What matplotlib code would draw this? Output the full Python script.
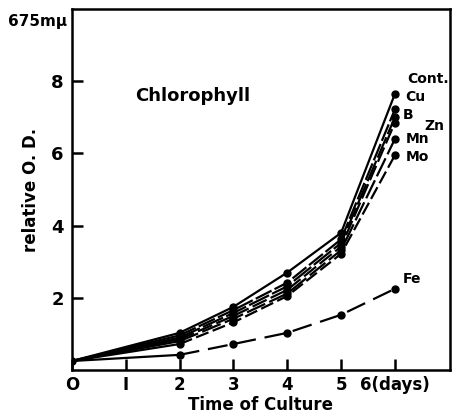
import matplotlib
matplotlib.use("Agg")
import matplotlib.pyplot as plt

days = [0, 2, 3, 4, 5, 6]
series_names = ["Cont.", "Cu", "B", "Zn", "Mn", "Mo", "Fe"]
cont = [0.25, 1.03, 1.75, 2.70, 3.80, 7.65]
cu = [0.25, 0.96, 1.66, 2.42, 3.62, 7.22]
b = [0.25, 0.90, 1.58, 2.32, 3.52, 7.00]
zn = [0.25, 0.85, 1.50, 2.22, 3.42, 6.85]
mn = [0.25, 0.80, 1.42, 2.12, 3.32, 6.40]
mo = [0.25, 0.72, 1.32, 2.05, 3.22, 5.95]
fe = [0.25, 0.42, 0.72, 1.03, 1.53, 2.25]
xticks = [0, 1, 2, 3, 4, 5, 6]
xticklabels = ["O", "I", "2", "3", "4", "5", "6(days)"]
yticks = [2, 4, 6, 8]

plt.rcParams['font.family'] = ['DejaVu Sans']
plt.rcParams['font.weight'] = 'bold'

fig = plt.figure(figsize=(4.72, 4.2), dpi=100)
ax = fig.add_axes([0.1525, 0.119, 0.8005, 0.8596])

styles = [
    (cont, '-'),
    (cu, (0, (8, 1.5))),
    (b, (0, (10, 1.5))),
    (zn, (0, (7, 2))),
    (mn, (0, (9, 2))),
    (mo, (0, (6, 2))),
    (fe, (0, (9, 4))),
]
for vals, ls in styles:
    ax.plot(days[1:], vals[1:], linestyle=ls, color='black', lw=1.6,
            marker='o', markersize=5)
    ax.plot(days[:2], vals[:2], linestyle='-', color='black', lw=1.6)
ax.plot([0], [cont[0]], 'o', color='black', markersize=5)

lbl = dict(fontsize=10, fontweight='bold')
ax.text(6.22, 7.95, "Cont.", **lbl)
ax.text(6.2, 7.45, "Cu", **lbl)
ax.text(6.15, 6.95, "B", **lbl)
ax.text(6.55, 6.65, "Zn", **lbl)
ax.text(6.2, 6.3, "Mn", **lbl)
ax.text(6.2, 5.8, "Mo", **lbl)
ax.text(6.15, 2.4, "Fe", **lbl)
ax.text(1.17, 7.6, "Chlorophyll", fontsize=13, fontweight='bold', va='center')

ax.set_xlim(0, 7.02)
ax.set_ylim(0, 10)
ax.set_xticks(xticks)
ax.set_xticklabels(xticklabels, fontsize=12, fontweight='bold')
ax.set_yticks(yticks)
ax.set_yticklabels([str(t) for t in yticks], fontsize=13, fontweight='bold')
ax.tick_params(direction='in', length=8, width=1.8)
ax.tick_params(axis='x', pad=4)
ax.tick_params(axis='y', pad=6)
for s in ax.spines.values():
    s.set_linewidth(1.8)
ax.set_xlabel("Time of Culture", fontsize=12, fontweight='bold', labelpad=2)
ax.set_ylabel("relative O. D.", fontsize=12, fontweight='bold', labelpad=8)
ax.text(-0.012, 1 - 13 / 361, "675mμ", transform=ax.transAxes, ha='right',
        va='center', fontsize=11, fontweight='bold')

fig.savefig("out.png", dpi=100)
